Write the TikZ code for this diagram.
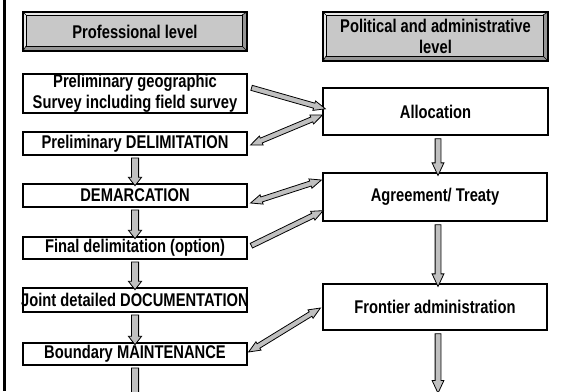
\documentclass[tikz,border=0pt]{standalone}
\usepackage{fontspec}
\setmainfont{Liberation Sans}[FakeStretch=0.8]
\usetikzlibrary{calc,shapes.arrows}
\definecolor{arrowgray}{RGB}{192,192,192}
\definecolor{facegray}{RGB}{200,200,200}
\definecolor{bevlight}{RGB}{232,232,232}
\definecolor{bevdark}{RGB}{150,150,150}
\newcommand{\flowarrow}[3][]{\path let \p1=#2, \p2=#3, \n1={atan2(\y2-\y1,\x2-\x1)}, \n2={veclen(\x2-\x1,\y2-\y1)} in node[#1, minimum height=\n2, rotate=\n1] at ($(\p1)!0.5!(\p2)$) {}}

\begin{document}
\begin{tikzpicture}[x=1pt,y=-1pt,
    boxfont/.style={font=\fontsize{18.4}{20.5}\selectfont\bfseries},
    stepbox/.style={boxfont, draw, line width=1.2pt, fill=white, minimum width=224pt, inner sep=0pt, align=center},
    levelbox/.style={boxfont, draw, line width=1.2pt, fill=bevlight, inner sep=0pt, align=center,
      path picture={
        \fill[bevdark] (path picture bounding box.south west) -- (path picture bounding box.south east)
          -- (path picture bounding box.north east) -- ($(path picture bounding box.north east)+(-5pt,-3pt)$)
          -- ($(path picture bounding box.south east)+(-5pt,5pt)$) -- ($(path picture bounding box.south west)+(3pt,5pt)$) -- cycle;
        \filldraw[fill=facegray, line width=0.6pt] ($(path picture bounding box.south west)+(3pt,5pt)$) rectangle ($(path picture bounding box.north east)+(-5pt,-3pt)$);
        \draw[line width=0.6pt] (path picture bounding box.south west) -- ++(3pt,5pt)
          (path picture bounding box.south east) -- ++(-5pt,5pt)
          (path picture bounding box.north east) -- ++(-5pt,-3pt)
          (path picture bounding box.north west) -- ++(3pt,-3pt);
      }},
    downarr/.style={single arrow, draw, line width=0.8pt, fill=arrowgray, inner xsep=0pt, inner ysep=3.2pt,
      single arrow head extend=3pt, single arrow tip angle=76},
    rightdown/.style={single arrow, draw, line width=0.8pt, fill=arrowgray, inner xsep=0pt, inner ysep=2.5pt,
      single arrow head extend=3pt, single arrow tip angle=50},
    slant/.style={single arrow, draw, line width=0.8pt, fill=arrowgray, inner xsep=0pt, inner ysep=2.2pt,
      single arrow head extend=2.3pt, single arrow tip angle=46},
    slanttwo/.style={double arrow, draw, line width=0.8pt, fill=arrowgray, inner xsep=0pt, inner ysep=2.2pt,
      double arrow head extend=2.3pt, double arrow tip angle=46}]
  \clip (0,0) rectangle (569,391);

  \draw[line width=3pt] (4.5,0) -- (4.5,391);

  % headers
  \node[levelbox, minimum width=224pt, minimum height=39pt] (prof) at (135,31.5) {Professional level};
  \node[levelbox, minimum width=225pt, minimum height=49pt] (polit) at (435.5,36.5) {Political and administrative\\level};

  % professional level
  \node[stepbox, minimum height=39pt] (s1) at (135,93.5) {Preliminary geographic\\Survey including field survey};
  \node[stepbox, minimum height=23pt] (s2) at (135,143.5) {Preliminary DELIMITATION};
  \node[stepbox, minimum height=23pt] (s3) at (135,195.5) {DEMARCATION};
  \node[stepbox, minimum height=22pt] (s4) at (135,248) {Final delimitation (option)};
  \node[stepbox, minimum height=24pt] (s5) at (135,300) {\makebox[224pt]{Joint detailed DOCUMENTATION}};
  \node[stepbox, minimum height=22pt] (s6) at (135,354) {Boundary MAINTENANCE};
  \coordinate (lend) at (135,400);

  % political level
  \node[stepbox, minimum width=225pt, minimum height=47pt] (alloc) at (435.5,111.5) {Allocation};
  \node[stepbox, minimum height=48pt] (treaty) at (435,197) {Agreement/ Treaty};
  \node[stepbox, minimum height=46pt] (front) at (435,307) {Frontier administration};
  \coordinate (rend) at (438,390);

  \flowarrow[downarr]{(s2.south)}{(s3.north)};
  \flowarrow[downarr]{(s3.south)}{(s4.north)};
  \flowarrow[downarr]{(s4.south)}{(s5.north)};
  \flowarrow[downarr]{(s5.south)}{(s6.north)};
  \flowarrow[downarr]{(s6.south)}{(lend)};

  \flowarrow[rightdown]{($(alloc.south)+(2.5,0)$)}{($(treaty.north)+(3,0)$)};
  \flowarrow[rightdown]{($(treaty.south)+(3,0)$)}{($(front.north)+(3,0)$)};
  \flowarrow[rightdown]{($(front.south)+(3,0)$)}{(rend)};

  \flowarrow[slant]{($(s1.east)+(1,-6.5)$)}{($(alloc.west)+(0,-3.5)$)};
  \flowarrow[slanttwo]{($(alloc.west)+(0,3.5)$)}{($(s2.east)+(3,1.5)$)};
  \flowarrow[slanttwo]{($(s3.east)+(3,7.5)$)}{($(treaty.west)+(-1,-17)$)};
  \flowarrow[slant]{($(s4.east)+(1,-1)$)}{($(treaty.west)+(-2,15)$)};
  \flowarrow[slanttwo]{($(s6.east)+(1,-2)$)}{($(front.west)+(-2,1)$)};
\end{tikzpicture}
\end{document}
